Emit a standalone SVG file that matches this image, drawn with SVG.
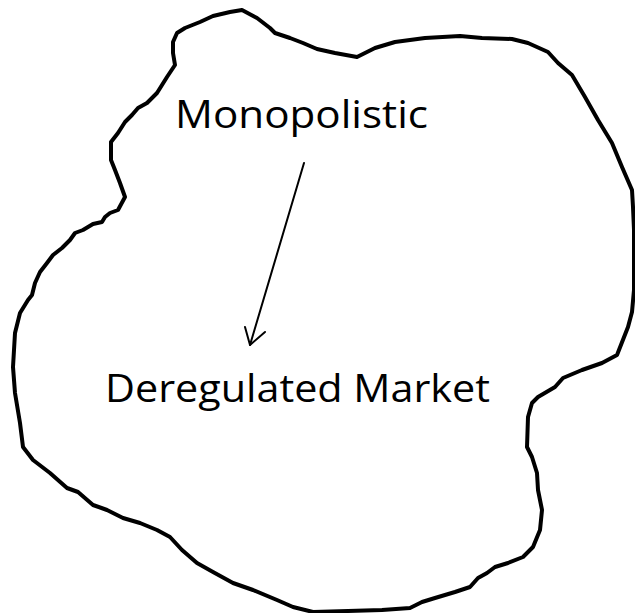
<svg xmlns="http://www.w3.org/2000/svg" width="635" height="613" viewBox="0 0 635 613">
<style>
.blob{fill:none;stroke:#000;stroke-width:4;stroke-linejoin:round;stroke-linecap:round}
.lbl{font-family:"Open Sans","Liberation Sans",sans-serif;font-size:39px;fill:#000}
.conn{fill:none;stroke:#000;stroke-width:2;stroke-linecap:round;stroke-linejoin:round}
</style>
<rect width="635" height="613" fill="#fff"/>
<g id="boundary">
<path class="blob" d="M242,10 L257,18 L270,28 L275,33 L290,38 L303,43 L317,49 L335,53 L357,57 L375,48 L395,42 L425,38 L460,36 L482,38 L512,39 L528,43 L548,52 L558,63 L572,75 L585,97 L598,120 L612,143 L622,167 L632,190 L633,207 L634,230 L634,260 L634,290 L632,312 L628,327 L617,355 L602,363 L582,370 L563,378 L555,387 L538,397 L532,403 L528,417 L527,447 L532,457 L537,473 L538,490 L542,510 L540,530 L533,547 L523,557 L508,563 L495,567 L487,573 L478,578 L470,587 L455,592 L435,598 L422,602 L410,608 L382,610 L348,611 L313,612 L293,607 L277,600 L253,590 L233,583 L213,572 L197,563 L182,550 L170,537 L157,530 L140,523 L123,518 L107,510 L93,505 L78,492 L67,488 L50,473 L33,460 L23,447 L20,423 L15,393 L13,367 L15,333 L20,313 L28,300 L32,295 L35,283 L40,272 L47,263 L53,255 L62,248 L70,240 L75,233 L83,230 L93,224 L102,222 L105,217 L110,213 L118,210 L125,197 L120,183 L115,170 L111,160 L111,142 L118,133 L125,122 L132,115 L138,108 L147,103 L157,93 L167,77 L175,65 L173,53 L173,42 L177,33 L185,28 L200,22 L213,16 L230,12 Z"/>
</g>
<g id="node-monopolistic">
<text class="lbl" x="175" y="128" textLength="253" lengthAdjust="spacingAndGlyphs">Monopolistic</text>
</g>
<g id="node-deregulated">
<text class="lbl" x="105" y="402" textLength="385" lengthAdjust="spacingAndGlyphs">Deregulated Market</text>
</g>
<g id="connectors">
<path class="conn" d="M304,163 L250,345"/>
<path class="conn" d="M245,327 L250,345 L265,332"/>
</g>
</svg>
